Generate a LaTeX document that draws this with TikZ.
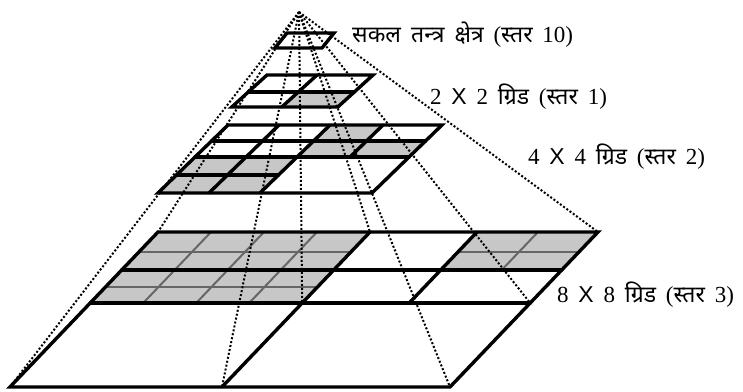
\documentclass[tikz,border=0pt]{standalone}
\usepackage{fontspec}
\setmainfont{Liberation Serif}[WordSpace=1.7]
\setsansfont{Liberation Sans}
\newfontfamily\devfont[Script=Devanagari, WordSpace=1.7]{Noto Sans}
\newcommand{\hin}[1]{{\devfont #1}}

\tikzset{
  edge/.style={line width=3.4pt, line cap=round},
  fine/.style={line width=2pt, black!60},
  cell/.style={fill=black!22},
  ray/.style={line width=2pt, dash pattern=on 2pt off 2pt},
  lvl/.style={anchor=west, inner sep=0pt, font=\fontsize{23}{27}\selectfont}
}

\begin{document}
\begin{tikzpicture}[x=1pt, y=-1pt]
  \useasboundingbox (0,0) rectangle (743,391);
  \coordinate (apex) at (299,12);

  % level 0: whole area
  \begin{scope}[shift={(287,33)}, xslant=0.8]
    \draw[edge] (0,0) rectangle (47,15);
  \end{scope}

  % level 1: 2 x 2
  \begin{scope}[shift={(267,75)}, xslant=1.1]
    \fill[cell] (50,17) rectangle (106,32);
    \draw[edge] (0,0) rectangle (106,32);
    \draw[edge] (0,17) -- (106,17);
    \draw[edge] (50,0) -- (50,32);
  \end{scope}

  % level 2: 4 x 4
  \begin{scope}[shift={(228,125)}, xslant=1.03]
    \fill[cell] (102,0) rectangle (155,32);
    \fill[cell] (155,16) rectangle (214,32);
    \fill[cell] (0,32) rectangle (102,68);
    \draw[edge] (0,0) rectangle (214,68);
    \draw[edge] (0,16) -- (214,16);
    \draw[edge] (0,32) -- (214,32);
    \draw[edge] (0,50) -- (102,50);
    \draw[edge] (51,0) -- (51,68);
    \draw[edge] (102,0) -- (102,68);
    \draw[edge] (155,0) -- (155,32);
  \end{scope}

  % level 3: 8 x 8
  \begin{scope}[shift={(158,232)}, xslant=0.955]
    \fill[cell] (0,0) rectangle (212,71);
    \fill[cell] (319,0) rectangle (440,38);
    \foreach \x in {53,106,159}
      \draw[fine] (\x,0) -- (\x,71);
    \foreach \y in {20,55}
      \draw[fine] (0,\y) -- (212,\y);
    \draw[fine] (380,0) -- (380,38);
    \draw[fine] (319,20) -- (440,20);
    \draw[edge] (0,0) rectangle (440,155);
    \draw[edge] (0,38) -- (440,38);
    \draw[edge] (0,71) -- (440,71);
    \draw[edge] (212,0) -- (212,155);
    \draw[edge] (319,0) -- (319,71);
    \coordinate (tl) at (0,0);
    \coordinate (tm) at (212,0);
    \coordinate (tr) at (440,0);
    \coordinate (cc) at (212,71);
    \coordinate (rm) at (440,71);
    \coordinate (bl) at (0,155);
    \coordinate (bm) at (212,155);
    \coordinate (br) at (440,155);
  \end{scope}

  \foreach \p in {tl,tm,tr,cc,rm,bl,bm,br}
    \draw[ray] (apex) -- (\p);

  \node[lvl] (lbl0) at (352,35) {\hin{सकल तन्त्र क्षेत्र} (\hin{स्तर} 10)};
  \node[lvl] (lbl1) at (430,97) {2 {\sffamily X} 2 \hin{ग्रिड} (\hin{स्तर} 1)};
  \node[lvl] (lbl2) at (528,157) {4 {\sffamily X} 4 \hin{ग्रिड} (\hin{स्तर} 2)};
  \node[lvl] (lbl3) at (557,295) {8 {\sffamily X} 8 \hin{ग्रिड} (\hin{स्तर} 3)};
\end{tikzpicture}
\end{document}
